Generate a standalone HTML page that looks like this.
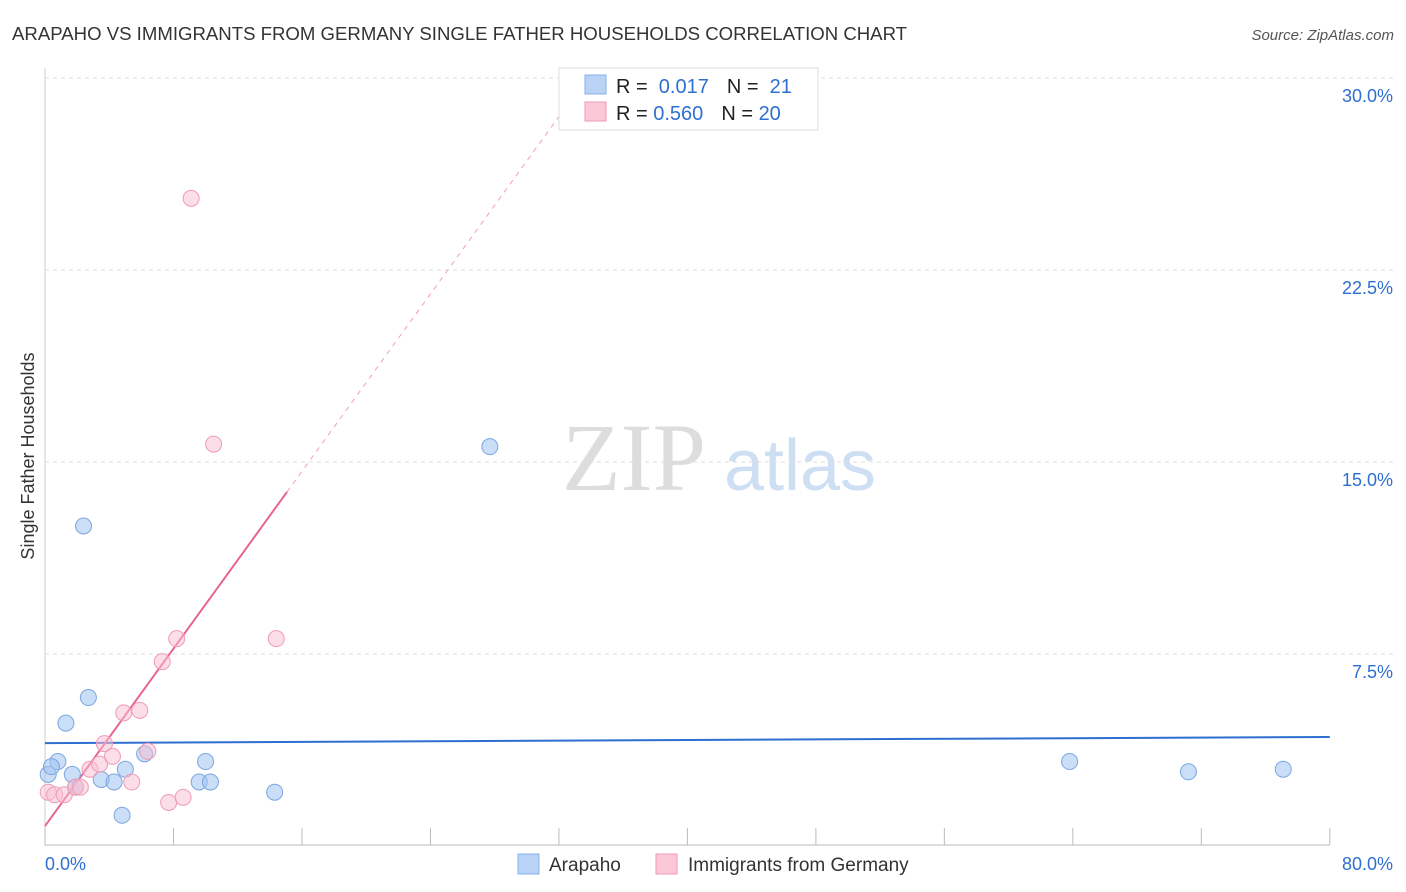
<!DOCTYPE html>
<html><head><meta charset="utf-8"><style>
body{margin:0;background:#fff;font-family:"Liberation Sans",sans-serif;}
svg{display:block}
</style></head><body>
<svg id="chart" width="1406" height="892" xmlns="http://www.w3.org/2000/svg">
<text x="12" y="40" font-size="18.6" fill="#333">ARAPAHO VS IMMIGRANTS FROM GERMANY SINGLE FATHER HOUSEHOLDS CORRELATION CHART</text>
<text x="1394" y="40" font-size="15" fill="#555" font-style="italic" text-anchor="end">Source: ZipAtlas.com</text>
<text x="634" y="490" font-size="96" fill="#ddd" font-family="Liberation Serif,serif" text-anchor="middle">ZIP</text>
<text x="800" y="490" font-size="72" fill="#cfdff3" text-anchor="middle">atlas</text>
<text transform="translate(34,456) rotate(-90)" font-size="18" fill="#333" text-anchor="middle">Single Father Households</text>
<g id="grid"></g><g id="marks"></g>
<g>
<rect x="559" y="68" width="259" height="62" fill="#fff" stroke="#ddd"/>
<rect x="585" y="75" width="21" height="19" fill="#b8d3f5" stroke="#8ab0e8"/>
<rect x="585" y="102" width="21" height="19" fill="#fbc8d8" stroke="#ef9ab5"/>
<text x="616" y="93" font-size="20" fill="#222">R = <tspan fill="#2f6fd0">&#160;0.017</tspan><tspan dx="18">N = </tspan><tspan fill="#2f6fd0">&#160;21</tspan></text>
<text x="616" y="120" font-size="20" fill="#222">R = <tspan fill="#2f6fd0">0.560</tspan><tspan dx="18">N = </tspan><tspan fill="#2f6fd0">20</tspan></text>
</g>
<g>
<rect x="518" y="854" width="21" height="20" fill="#b8d3f5" stroke="#8ab0e8"/>
<text x="549" y="871" font-size="19" fill="#333">Arapaho</text>
<rect x="656" y="854" width="21" height="20" fill="#fbc8d8" stroke="#ef9ab5"/>
<text x="688" y="871" font-size="19" fill="#333">Immigrants from Germany</text>
</g>
</svg>
<script>
const yTicks=[7.5,15,22.5,30];
const yTickLabels=["7.5%","15.0%","22.5%","30.0%"];
const blueX=[0.2,0.8,0.4,1.7,1.9,2.4,1.3,2.7,3.5,4.3,5.0,4.8,6.2,9.6,10.0,10.3,14.3,27.7,63.8,71.2,77.1];
const blueY=[2.8,3.3,3.1,2.8,2.3,12.5,4.8,5.8,2.6,2.5,3.0,1.2,3.6,2.5,3.3,2.5,2.1,15.6,3.3,2.9,3.0];
const pinkX=[0.2,0.6,1.2,1.9,2.2,2.8,3.4,3.7,4.2,4.9,5.4,5.9,6.4,7.3,7.7,8.2,8.6,9.1,10.5,14.4];
const pinkY=[2.1,2.0,2.0,2.3,2.3,3.0,3.2,4.0,3.5,5.2,2.5,5.3,3.7,7.2,1.7,8.1,1.9,25.3,15.7,8.1];
const blueTrend=[4.02,4.26];
const pinkTrend=[0.78,0.866];
const X=v=>45+v*16.06, Y=v=>846-v*25.6;
const NS="http://www.w3.org/2000/svg";
const grid=document.getElementById('grid'),marks=document.getElementById('marks');
function mk(tag,attrs,parent){const e=document.createElementNS(NS,tag);for(const k in attrs)e.setAttribute(k,attrs[k]);parent.appendChild(e);return e;}
yTicks.forEach((t,i)=>{
 const l=mk('line',{x1:45,x2:1394,y1:Y(t),y2:Y(t),stroke:'#ddd','stroke-dasharray':'4,4'},grid);
 
 
 const tx=mk('text',{x:1393,y:Y(t)+24,'font-size':18,fill:'#2f6fd0','text-anchor':'end'},grid);
 tx.textContent=yTickLabels[i];
 
 
});
let a=mk('line',{x1:45,x2:45,y1:68,y2:846,stroke:'#ccc'},grid);


a=mk('line',{x1:45,x2:1330,y1:845,y2:845,stroke:'#bbb'},grid);


for(let i=0;i<=10;i++){const t=mk('line',{x1:X(i*8),x2:X(i*8),y1:828,y2:845,stroke:'#bbb'},grid);
 
 }
[["0.0%",45,'start'],["80.0%",1393,'end']].forEach(d=>{const t=mk('text',{x:d[1],y:870,'font-size':18,fill:'#2f6fd0','text-anchor':d[2]},grid);t.textContent=d[0];
 
 });
let tl=mk('line',{x1:X(0),y1:Y(blueTrend[0]),x2:X(80),y2:Y(blueTrend[1]),stroke:'#2f6fd0','stroke-width':2},marks);


const pEnd=(30-pinkTrend[0])/pinkTrend[1];
tl=mk('line',{x1:X(15.07),y1:Y(pinkTrend[0]+pinkTrend[1]*15.07),x2:X(pEnd),y2:Y(30),stroke:'#f0a0b8','stroke-width':1,'stroke-dasharray':'5,5'},marks);


tl=mk('line',{x1:X(0),y1:Y(pinkTrend[0]),x2:X(15.07),y2:Y(pinkTrend[0]+pinkTrend[1]*15.07),stroke:'#e8648f','stroke-width':2},marks);


blueX.forEach((x,i)=>{const c=mk('circle',{cx:X(x),cy:Y(blueY[i]),r:8,fill:'rgba(160,195,240,0.55)',stroke:'#7aa6e0','stroke-width':1},marks);
 
 });
pinkX.forEach((x,i)=>{const c=mk('circle',{cx:X(x),cy:Y(pinkY[i]),r:8,fill:'rgba(250,190,210,0.5)',stroke:'#f09ab6','stroke-width':1},marks);
 
 });
</script>
</body></html>
